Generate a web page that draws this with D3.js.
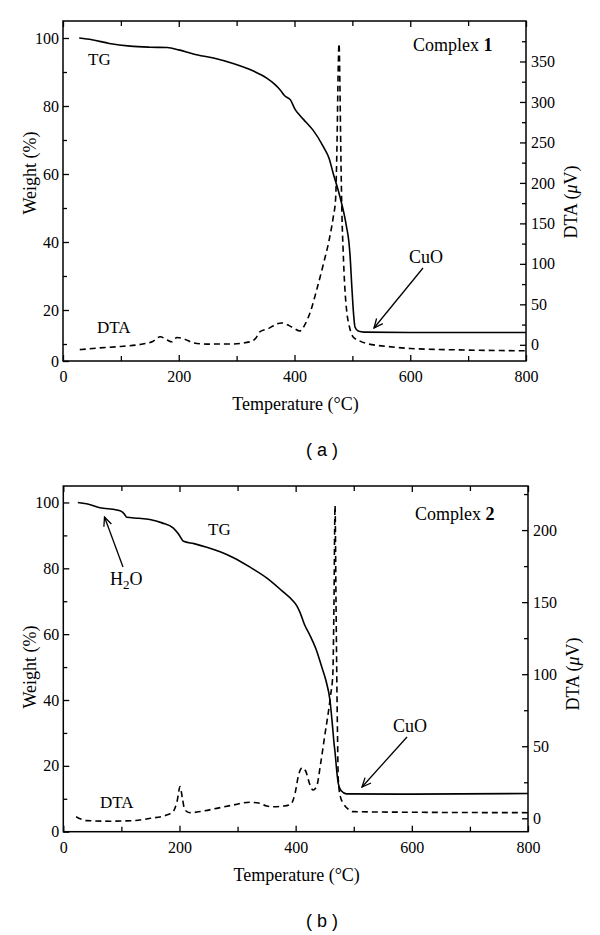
<!DOCTYPE html>
<html><head><meta charset="utf-8">
<script src="https://cdn.jsdelivr.net/npm/d3@7"></script>
<style>body{margin:0;background:#fff}</style>
</head><body><svg id="c" width="600" height="935"></svg>
<script>
// ---------- data: panel (a) ----------
const tgA_T = [28,50,80,116,150,180,200,215,225,260,294,330,352,365,375,383,393,401,409,420,432,450,460,467,475,481.5,486,490,494,496,499,502,504.5,510,520,600,800];
const tgA_W = [100,99.5,98.4,97.6,97.3,97.2,96.5,95.8,95.3,94.1,92.5,90.2,88.2,86.5,84.8,83.0,81.8,79,77.3,75.2,72.9,68,64.5,60.1,55.5,51.3,48,44.4,40,36,27,19,15,13.8,13.5,13.4,13.4];
const dtaA_T = [29,60,100,138,155,168,180,188,197,210,225,249,290,323,333,340,355,370,378,390,400,409,418,428,438,450,460,467,471,473.5,475.5,477,478.5,480,482,484,487,490,495,501,512,524,560,600,700,800];
const dtaA_V = [-6,-4,-2,1,4,10,6,3.7,9,7,2.5,0.9,1,3.7,8,16,20,26,27,24,20,17,25,42,67,100,130,158,180,250,340,372,320,240,160,117,70,43,22,10,5,1.7,-2,-4.5,-6.5,-7.4];
// ---------- data: panel (b) ----------
const tgB_T = [25,40,63,92,100,105,109,130,149,170,189,198,207,225,247,270,293,320,350,375,396,403,408,415,425,435,445,452,459,463,466,468,471,473.4,478,487.5,600,800];
const tgB_W = [100,99.6,98.4,97.7,97.3,96.5,95.5,95.2,94.8,93.8,92.3,90.5,88.2,87.5,86.4,85,83.2,80.5,77.1,73.4,70,68.3,66.4,63,59.5,55.5,50,46,40,33,27,23.8,18,14.7,12.5,11.5,11.4,11.6];
const dtaB_T = [22,30,40,80,120,150,178,189,196,201,205,209,218,240,264,290,321,339,350,362,380,392,399,405,411,417,424,430,436,443,450,460,464,466,467.8,469.5,470.7,472,473.4,477,482,490,499,600,800];
const dtaB_V = [1.1,-0.5,-1.6,-2,-1.6,0,2.3,4.6,12,22,14,6,3.9,5,6.9,9,11.1,10.4,8.5,8,8.5,10,17.3,30,35,33,24,19.6,22,38,57,85,100,150,217,150,103,60,27,15,10.4,6.5,4.6,4.2,3.9];
// ---------- axes ----------
const xDomain = [0,800];
const xMajor = [0,200,400,600,800], xMinor = [100,300,500,700];
const wDomainA = [5,105], wTicksA = [5,20,40,60,80,100], wLabelsA = ["0","20","40","60","80","100"], wMinorA = [10,30,50,70,90];
const wDomainB = [0,105], wTicksB = [0,20,40,60,80,100], wLabelsB = ["0","20","40","60","80","100"], wMinorB = [10,30,50,70,90];
const dDomainA = [-20,400], dTicksA = [0,50,100,150,200,250,300,350], dMinorA = [25,75,125,175,225,275,325,375];
const dDomainB = [-9.3,230.6], dTicksB = [0,50,100,150,200], dMinorB = [25,75,125,175,225];

const svg = d3.select("#c");
svg.append("rect").attr("width",600).attr("height",935).attr("fill","#fff");
const defs = svg.append("defs");
defs.append("marker").attr("id","arr").attr("viewBox","-10 -5 11 10").attr("refX",0).attr("refY",0)
  .attr("markerWidth",11).attr("markerHeight",10).attr("markerUnits","userSpaceOnUse").attr("orient","auto")
  .append("path").attr("d","M-9,-4L0,0L-9,4").attr("fill","none").attr("stroke","#000").attr("stroke-width",1.3);

const SERIF = "'Liberation Serif','Times New Roman',serif";

function panel(p){
  const g = svg.append("g");
  const x = d3.scaleLinear().domain(xDomain).range([p.l,p.r]);
  const yL = d3.scaleLinear().domain(p.wDomain).range([p.b,p.t]);
  const yR = d3.scaleLinear().domain(p.dDomain).range([p.b,p.t]);
  const styleAxis = sel => { sel.select(".domain").remove();
    sel.selectAll("line").attr("stroke","#000").attr("stroke-width",1.3);
    sel.selectAll("text").attr("font-family",SERIF).attr("font-size",16).attr("fill","#000"); };
  // bottom
  g.append("g").attr("transform",`translate(0,${p.b})`).call(d3.axisBottom(x).tickValues(xMajor).tickSizeInner(-6).tickSizeOuter(0).tickPadding(10)).call(styleAxis);
  g.append("g").attr("transform",`translate(0,${p.b})`).call(d3.axisBottom(x).tickValues(xMinor).tickSizeInner(-5).tickSizeOuter(0).tickFormat("")).call(styleAxis);
  // top
  g.append("g").attr("transform",`translate(0,${p.t})`).call(d3.axisTop(x).tickValues(xMajor).tickSizeInner(-6).tickSizeOuter(0).tickFormat("")).call(styleAxis);
  g.append("g").attr("transform",`translate(0,${p.t})`).call(d3.axisTop(x).tickValues(xMinor).tickSizeInner(-5).tickSizeOuter(0).tickFormat("")).call(styleAxis);
  // left
  g.append("g").attr("transform",`translate(${p.l},0)`).call(d3.axisLeft(yL).tickValues(p.wTicks).tickSizeInner(-6).tickSizeOuter(0).tickPadding(4).tickFormat((d,i)=>p.wLabels[i])).call(styleAxis);
  g.append("g").attr("transform",`translate(${p.l},0)`).call(d3.axisLeft(yL).tickValues(p.wMinor).tickSizeInner(-4).tickSizeOuter(0).tickFormat("")).call(styleAxis);
  // right
  g.append("g").attr("transform",`translate(${p.r},0)`).call(d3.axisRight(yR).tickValues(p.dTicks).tickSizeInner(-6).tickSizeOuter(0).tickPadding(5)).call(styleAxis);
  g.append("g").attr("transform",`translate(${p.r},0)`).call(d3.axisRight(yR).tickValues(p.dMinor).tickSizeInner(-4).tickSizeOuter(0).tickFormat("")).call(styleAxis);
  // frame
  g.append("rect").attr("x",p.l).attr("y",p.t).attr("width",p.r-p.l).attr("height",p.b-p.t)
    .attr("fill","none").attr("stroke","#000").attr("stroke-width",1.5);
  // curves
  const clipId = "clip"+p.id;
  defs.append("clipPath").attr("id",clipId).append("rect").attr("x",p.l).attr("y",p.t).attr("width",p.r-p.l).attr("height",p.b-p.t);
  const tg = p.tgT.map((t,i)=>[t,p.tgW[i]]);
  const dta = p.dT.map((t,i)=>[t,p.dV[i]]);
  g.append("path").datum(tg).attr("clip-path",`url(#${clipId})`)
    .attr("d",d3.line().x(d=>x(d[0])).y(d=>yL(d[1])).curve(d3.curveMonotoneX))
    .attr("fill","none").attr("stroke","#000").attr("stroke-width",1.6);
  g.append("path").datum(dta).attr("clip-path",`url(#${clipId})`)
    .attr("d",d3.line().x(d=>x(d[0])).y(d=>yR(d[1])).curve(d3.curveMonotoneX))
    .attr("fill","none").attr("stroke","#000").attr("stroke-width",1.6).attr("stroke-dasharray","6,4");
  // titles
  g.append("text").attr("transform",`translate(${p.l-27},${p.wTitleY}) rotate(-90)`).attr("text-anchor","middle")
    .attr("font-family",SERIF).attr("font-size",18).text("Weight (%)");
  const rt = g.append("text").attr("transform",`translate(${p.r+51},${p.dTitleY}) rotate(-90)`).attr("text-anchor","middle")
    .attr("font-family",SERIF).attr("font-size",18);
  rt.append("tspan").text("DTA (");
  rt.append("tspan").attr("font-style","italic").text("\u03BC");
  rt.append("tspan").text("V)");
  g.append("text").attr("x",(p.l+p.r)/2+1).attr("y",p.b+49).attr("text-anchor","middle")
    .attr("font-family",SERIF).attr("font-size",18).text("Temperature (\u00B0C)");
  g.append("text").attr("x",p.capX).attr("y",p.b+95).attr("text-anchor","middle")
    .attr("font-family","'Liberation Sans',Arial,sans-serif").attr("font-size",18).attr("xml:space","preserve").text(p.caption);
  // complex label
  const cl = g.append("text").attr("x",p.cx).attr("y",p.cy).attr("font-family",SERIF).attr("font-size",18);
  cl.append("tspan").text("Complex ");
  cl.append("tspan").attr("font-weight","bold").text(p.num);
  return {g,x,yL,yR};
}

// panel (a)
const A = panel({id:"a",l:63,r:526,t:21,b:361,wDomain:wDomainA,wTicks:wTicksA,wLabels:wLabelsA,wMinor:wMinorA,
  dDomain:dDomainA,dTicks:dTicksA,dMinor:dMinorA,tgT:tgA_T,tgW:tgA_W,dT:dtaA_T,dV:dtaA_V,
  wTitleY:173,dTitleY:202,caption:"( a )",capX:322,cx:413,cy:51,num:"1"});
A.g.append("text").attr("x",88).attr("y",65).attr("font-family",SERIF).attr("font-size",17).text("TG");
A.g.append("text").attr("x",97).attr("y",333).attr("font-family",SERIF).attr("font-size",17).text("DTA");
A.g.append("text").attr("x",409).attr("y",263).attr("font-family",SERIF).attr("font-size",18).text("CuO");
A.g.append("line").attr("x1",423).attr("y1",268).attr("x2",374).attr("y2",328).attr("stroke","#000").attr("stroke-width",1.3).attr("marker-end","url(#arr)");

// panel (b)
const B = panel({id:"b",l:63.3,r:528,t:486,b:831.7,wDomain:wDomainB,wTicks:wTicksB,wLabels:wLabelsB,wMinor:wMinorB,
  dDomain:dDomainB,dTicks:dTicksB,dMinor:dMinorB,tgT:tgB_T,tgW:tgB_W,dT:dtaB_T,dV:dtaB_V,
  wTitleY:667,dTitleY:674,caption:"( b )",capX:322,cx:415,cy:520,num:"2"});
B.g.append("text").attr("x",208).attr("y",535).attr("font-family",SERIF).attr("font-size",17).text("TG");
const h2o = B.g.append("text").attr("x",110).attr("y",585).attr("font-family",SERIF).attr("font-size",18);
h2o.append("tspan").text("H");
h2o.append("tspan").attr("font-size",13).attr("dy",4).text("2");
h2o.append("tspan").attr("dy",-4).text("O");
B.g.append("line").attr("x1",123).attr("y1",567).attr("x2",104.5).attr("y2",517).attr("stroke","#000").attr("stroke-width",1.3).attr("marker-end","url(#arr)");
B.g.append("text").attr("x",100).attr("y",808).attr("font-family",SERIF).attr("font-size",17).text("DTA");
B.g.append("text").attr("x",393).attr("y",732).attr("font-family",SERIF).attr("font-size",18).text("CuO");
B.g.append("line").attr("x1",407).attr("y1",737).attr("x2",362).attr("y2",787).attr("stroke","#000").attr("stroke-width",1.3).attr("marker-end","url(#arr)");
</script></body></html>
